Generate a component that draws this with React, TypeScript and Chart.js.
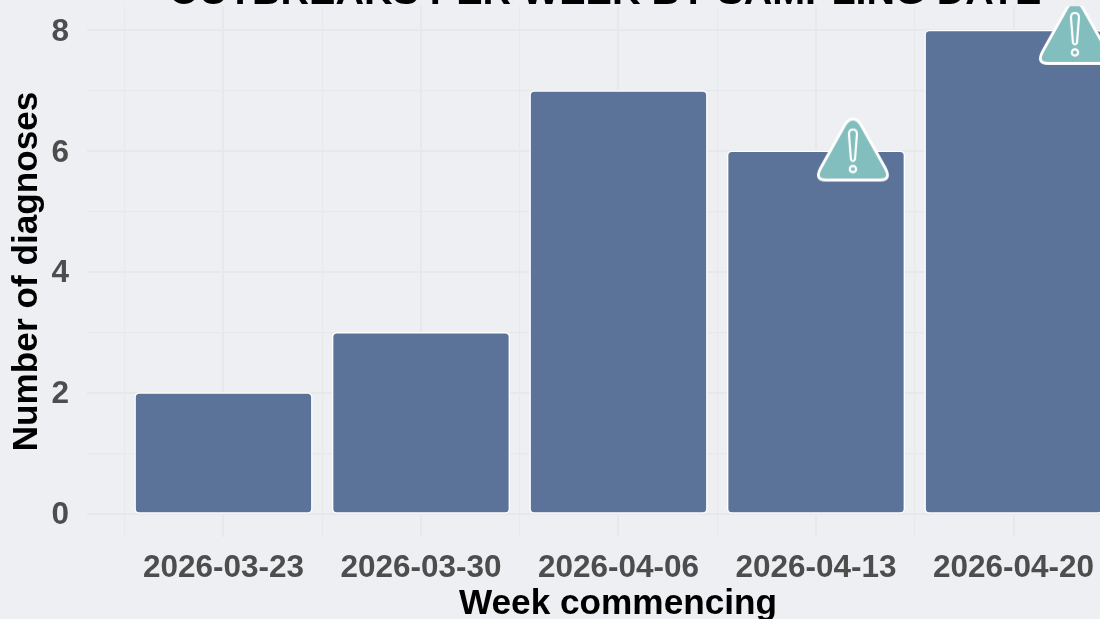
import React, { useEffect, useRef } from "react";
import { Chart, registerables } from "chart.js";

Chart.register(...registerables);

const weekLabels = ["2026-03-23", "2026-03-30", "2026-04-06", "2026-04-13", "2026-04-20"];
const diagnoses = [2, 3, 7, 6, 8];
const warningX = [3.187, 4.311];
const warningY = [6.03, 7.96];

const FONT = '"Liberation Sans", Arial, sans-serif';
const BG = "#EEEFF3";
const BAR = "#5B7299";
const TEAL = "#83BEBF";
const GRID = "#E7E8EA";

function makeIcon(): HTMLCanvasElement {
  const c = document.createElement("canvas");
  c.width = 80;
  c.height = 70;
  const g = c.getContext("2d")!;
  const cx = 40;
  g.beginPath();
  g.moveTo(cx, 4.5);
  g.quadraticCurveTo(cx + 5, 4.5, cx + 8.5, 11);
  g.lineTo(cx + 32, 53);
  g.quadraticCurveTo(cx + 39, 65.5, cx + 27, 65.5);
  g.lineTo(cx - 27, 65.5);
  g.quadraticCurveTo(cx - 39, 65.5, cx - 32, 53);
  g.lineTo(cx - 8.5, 11);
  g.quadraticCurveTo(cx - 5, 4.5, cx, 4.5);
  g.closePath();
  g.fillStyle = TEAL;
  g.fill();
  g.strokeStyle = "#FFFFFF";
  g.lineWidth = 2.8;
  g.lineJoin = "round";
  g.stroke();
  g.lineWidth = 2.2;
  g.beginPath();
  g.moveTo(cx - 4, 19.5);
  g.quadraticCurveTo(cx - 4, 15, cx, 15);
  g.quadraticCurveTo(cx + 4, 15, cx + 4, 19.5);
  g.lineTo(cx + 2, 45);
  g.quadraticCurveTo(cx, 48, cx - 2, 45);
  g.closePath();
  g.stroke();
  g.beginPath();
  g.arc(cx, 54.5, 3.2, 0, Math.PI * 2);
  g.stroke();
  return c;
}

export default function App() {
  const ref = useRef<HTMLCanvasElement>(null);
  useEffect(() => {
    if (!ref.current) return;
    const chart = new Chart(ref.current, {
      type: "bar",
      data: {
        datasets: [
          {
            type: "scatter",
            data: warningX.map((x, i) => ({ x, y: warningY[i] })),
            pointStyle: makeIcon(),
            pointRadius: 40,
            order: 0,
          } as any,
          {
            type: "bar",
            data: diagnoses.map((y, i) => ({ x: i, y })),
            backgroundColor: BAR,
            borderColor: "#FFFFFF",
            borderWidth: 1.5,
            borderRadius: 5,
            borderSkipped: false,
            inflateAmount: 0.75,
            barPercentage: 1.79,
            categoryPercentage: 1,
            order: 1,
          } as any,
        ],
      },
      options: {
        responsive: false,
        animation: false,
        maintainAspectRatio: false,
        layout: { padding: 0 },
        plugins: {
          legend: { display: false },
          tooltip: { enabled: false },
          title: {
            display: true,
            text: "OUTBREAKS PER WEEK BY SAMPLING DATE",
            color: "#000000",
            font: { family: FONT, size: 39.5, weight: "bold" },
            padding: { top: 29, bottom: -10.1 },
          },
        },
        scales: {
          x: {
            type: "linear",
            offset: false,
            min: -0.691,
            max: 4.686,
            afterFit: (s: any) => {
              s.height = 112.4;
              s.paddingLeft = 0;
              s.paddingRight = 61;
            },
            border: { display: false },
            grid: {
              offset: false,
              drawTicks: false,
              color: GRID,
              lineWidth: (ctx: any) => (Number.isInteger(ctx.tick?.value) ? 2 : 1.2),
            },
            ticks: {
              stepSize: 0.5,
              includeBounds: false,
              autoSkip: false,
              maxRotation: 0,
              padding: 13,
              color: "#4D4D4D",
              font: { family: FONT, size: 31.5, weight: "bold" },
              callback: (v: any) => (Number.isInteger(v) ? weekLabels[v] ?? "" : ""),
            },
            title: {
              display: true,
              text: "Week commencing",
              color: "#000000",
              font: { family: FONT, size: 35.2, weight: "bold" },
              padding: { top: 0, bottom: 24 },
            },
          },
          y: {
            type: "linear",
            min: -0.375,
            max: 8.4,
            afterFit: (s: any) => { s.width = 87; },
            border: { display: false },
            grid: {
              drawTicks: false,
              color: GRID,
              lineWidth: (ctx: any) => (ctx.tick?.value % 2 === 0 ? 2 : 1.2),
            },
            ticks: {
              stepSize: 1,
              includeBounds: false,
              autoSkip: false,
              padding: 18,
              labelOffset: 1.5,
              color: "#4D4D4D",
              font: { family: FONT, size: 31.5, weight: "bold" },
              callback: (v: any) => (v % 2 === 0 ? String(v) : ""),
            },
            title: {
              display: true,
              text: "Number of diagnoses",
              color: "#000000",
              font: { family: FONT, size: 35.2, weight: "bold" },
              padding: { top: 6, bottom: 0 },
            },
          },
        },
      } as any,
    });
    return () => chart.destroy();
  }, []);
  return (
    <div style={{ position: "absolute", left: 0, top: 0, width: 1100, height: 619, overflow: "hidden", background: BG }}>
      <canvas ref={ref} width={1210} height={709} style={{ position: "absolute", left: 0, top: -60, width: 1210, height: 709 }} />
    </div>
  );
}
